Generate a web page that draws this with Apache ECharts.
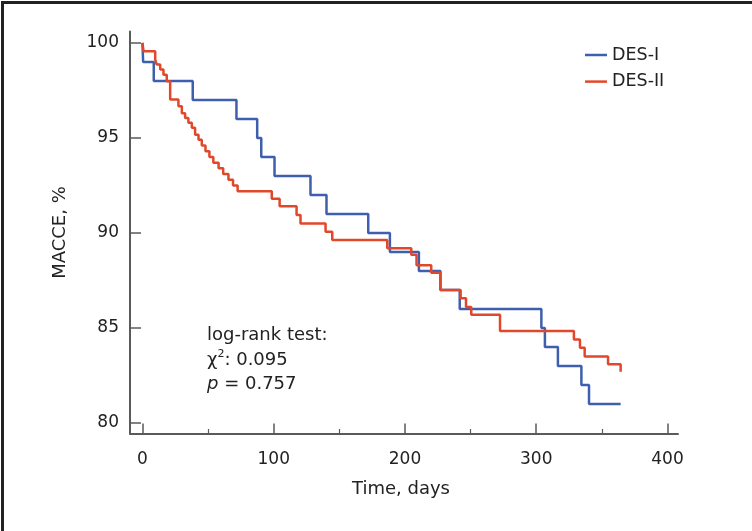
<!DOCTYPE html>
<html>
<head>
<meta charset="utf-8">
<script src="https://cdn.jsdelivr.net/npm/echarts@6/dist/echarts.min.js"></script>
<style>
html,body{margin:0;padding:0;background:#fff;}
#c{width:752px;height:531px;}
</style>
</head>
<body>
<div id="c"></div>
<script>
// ---- data ----
const xTicks = [0, 100, 200, 300, 400];
const xMinorTicks = [50, 150, 250, 350];
const yTicks = [80, 85, 90, 95, 100];

const desIDays   = [0, 0.5, 8.6, 38.3, 71.6, 87.4, 90.5, 100.6, 128, 140.2, 172, 188.5, 210.6, 227, 241.7, 303.9, 306.6, 316.5, 334.4, 340.2, 364.3];
const desIValues = [100, 99, 98, 97, 96, 95, 94, 93, 92, 91, 90, 89, 88, 87, 86, 85, 84, 83, 82, 81, 81];

const desIIDays   = [0, 0.8, 9.7, 10.9, 13.5, 16, 18.5, 21.1, 27.4, 30, 32.5, 35, 37.6, 40.1, 42.7, 45.2, 48, 51, 54, 58, 61.5, 65.5, 69, 72.5, 98.5, 104.5, 117.4, 120.4, 139.5, 144.6, 186.5, 204.8, 208.8, 220, 227, 242.4, 246.5, 250.5, 272.4, 328.7, 333.3, 336.9, 354.7, 364.3];
const desIIValues = [100, 99.56, 99.12, 98.86, 98.6, 98.33, 97.98, 97.02, 96.67, 96.3, 96.05, 95.8, 95.53, 95.17, 94.9, 94.6, 94.3, 94.0, 93.7, 93.4, 93.1, 92.8, 92.5, 92.2, 91.8, 91.4, 90.95, 90.5, 90.07, 89.63, 89.19, 88.85, 88.3, 87.91, 87.0, 86.56, 86.1, 85.7, 84.84, 84.4, 83.96, 83.5, 83.09, 82.7];

const seriesNames = ['DES-I', 'DES-II'];
const annotation = ['log-rank test:', 'χ{s|2}: 0.095', '{i|p} = 0.757'];

// ---- chart ----
const FONT = 'DejaVu Sans';
const TXT = '#222222';
const AX = '#5a5a5a';
const zip = (a, b) => a.map((v, i) => [v, b[i]]);

const chart = echarts.init(document.getElementById('c'), null, {renderer: 'canvas'});
chart.setOption({
  animation: false,
  backgroundColor: '#ffffff',
  textStyle: {fontFamily: FONT, color: TXT},
  grid: {left: 130, right: 74, top: 31.5, bottom: 97.5, containLabel: false},
  legend: {
    orient: 'vertical', left: 580, top: 40,
    icon: 'rect', itemWidth: 22, itemHeight: 2.5, itemGap: 6.6,
    textStyle: {fontFamily: FONT, fontSize: 17.5, color: TXT, lineHeight: 20},
    data: seriesNames
  },
  xAxis: [{
    type: 'value', min: -9.5, max: 408, position: 'bottom',
    axisLine: {show: true, onZero: false, lineStyle: {color: AX, width: 2}},
    axisTick: {show: true, inside: true, length: 10, customValues: xTicks, lineStyle: {color: AX, width: 1.5}},
    axisLabel: {show: true, customValues: xTicks, margin: 18, fontSize: 17, color: TXT, fontFamily: FONT},
    splitLine: {show: false},
    name: 'Time, days', nameLocation: 'middle', nameGap: 47,
    nameTextStyle: {fontSize: 18, color: TXT, fontFamily: FONT, padding: [0, 6, 0, 0]}
  }, {
    type: 'value', min: -9.5, max: 408, position: 'bottom', offset: 0,
    axisLine: {show: false, onZero: false},
    axisTick: {show: true, inside: true, length: 4.5, customValues: xMinorTicks, lineStyle: {color: AX, width: 1.2}},
    axisLabel: {show: false},
    splitLine: {show: false}
  }],
  yAxis: {
    type: 'value', min: 79.45, max: 100.6,
    axisLine: {show: true, onZero: false, lineStyle: {color: AX, width: 2}},
    axisTick: {show: true, inside: true, length: 11, customValues: yTicks, lineStyle: {color: AX, width: 1.5}},
    axisLabel: {show: true, customValues: yTicks, margin: 11, fontSize: 17, color: TXT, fontFamily: FONT},
    splitLine: {show: false},
    name: 'MACCE, %', nameLocation: 'middle', nameGap: 61, nameRotate: 90,
    nameTextStyle: {fontSize: 18, color: TXT, fontFamily: FONT}
  },
  series: [{
    name: seriesNames[0], type: 'line', step: 'end', showSymbol: false, symbol: 'none',
    data: zip(desIDays, desIValues),
    lineStyle: {color: '#3f5fae', width: 2.5}, itemStyle: {color: '#3f5fae'}, z: 2
  }, {
    name: seriesNames[1], type: 'line', step: 'end', showSymbol: false, symbol: 'none',
    data: zip(desIIDays, desIIValues),
    lineStyle: {color: '#e0482c', width: 2.5}, itemStyle: {color: '#e0482c'}, z: 3
  }],
  graphic: [
    {type: 'text', left: 207, top: 324, style: {text: annotation[0], font: '18px "DejaVu Sans"', fill: TXT, lineHeight: 22}},
    {type: 'text', left: 207, top: 349, style: {text: annotation[1], font: '18px "DejaVu Sans"', fill: TXT, lineHeight: 22,
      rich: {s: {fontSize: 11, fontFamily: FONT, lineHeight: 11, verticalAlign: 'top', fill: TXT}}}},
    {type: 'text', left: 207, top: 373.5, style: {text: annotation[2], font: '18px "DejaVu Sans"', fill: TXT, lineHeight: 22,
      rich: {i: {fontSize: 18, fontFamily: FONT, fontStyle: 'italic', fill: TXT}}}},
    {type: 'rect', left: 0, top: 0, silent: true, z: 100,
      shape: {x: 0, y: 0, width: 752, height: 531}, style: {fill: 'none', stroke: '#222', lineWidth: 3}}
  ]
});
</script>
</body>
</html>
